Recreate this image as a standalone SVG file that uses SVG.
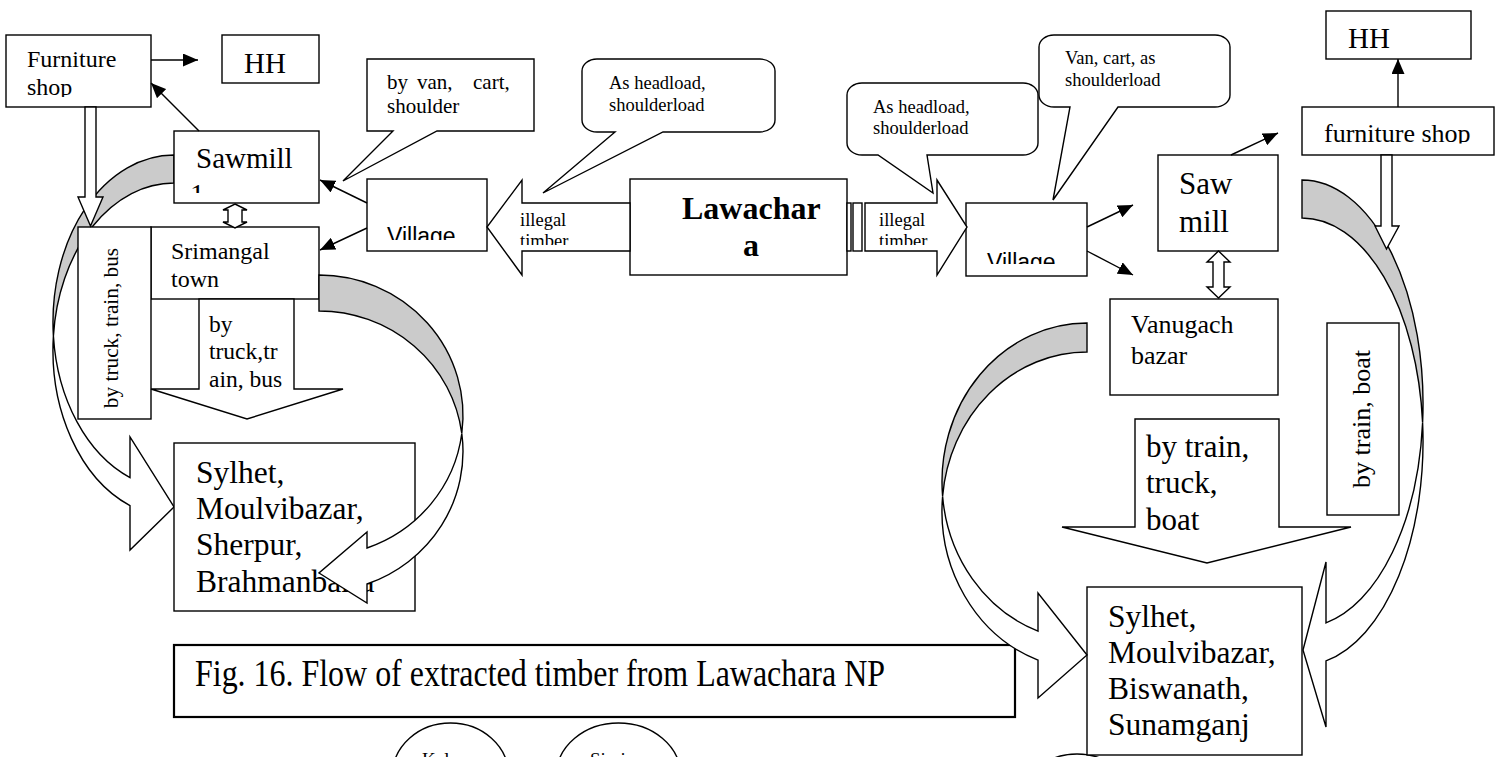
<svg xmlns="http://www.w3.org/2000/svg" width="1503" height="757" viewBox="0 0 1503 757" font-family="'Liberation Serif','Times New Roman',serif">
<style>
.box{fill:#fff;stroke:#000;stroke-width:1.4}
.ln{fill:none;stroke:#000;stroke-width:1.4}
.blk{fill:#fff;stroke:#000;stroke-width:1.4;stroke-linejoin:miter}
.back{fill:#cbcbcb;stroke:#000;stroke-width:1.4;stroke-linejoin:miter}
text{font-family:"Liberation Serif","Times New Roman",serif;fill:#000}
text.sans{font-family:"Liberation Sans",Arial,sans-serif}
.cap{stroke-width:2.2}
</style>
<defs>
<marker id="head" viewBox="0 0 15 13" refX="15" refY="6.5" markerWidth="15" markerHeight="13" markerUnits="userSpaceOnUse" orient="auto"><path d="M0,0 L15,6.5 L0,13 Z" fill="#000"/></marker>
<clipPath id="clip-shop"><rect x="6" y="35" width="145" height="62"/></clipPath>
<clipPath id="clip-saw"><rect x="174" y="131" width="145" height="62"/></clipPath>
<clipPath id="clip-tl"><rect x="480" y="200" width="160" height="45"/></clipPath>
<clipPath id="clip-tr"><rect x="860" y="200" width="80" height="45"/></clipPath>
<clipPath id="clip-vl"><rect x="367" y="179" width="120" height="61"/></clipPath>
<clipPath id="clip-vr"><rect x="966" y="203" width="121" height="61"/></clipPath>
<clipPath id="clip-fs"><rect x="1302" y="107" width="192" height="36.5"/></clipPath>
</defs>
<rect width="1503" height="757" fill="#fff"/>

<!-- curved arrow behind the Srimangal boxes: sawmill round to the district towns -->
<g id="connectors-under">
<path class="back" d="M174,155 A121,167 0 0 0 53.4,336 A121,167 0 0 1 174,183 Z"/>
<path class="blk" d="M53.4,336 A121,167 0 0 0 130,477.6 L130,437 L174,507 L130,550 L130,505.6 A121,167 0 0 1 53.4,336 Z"/>
</g>

<!-- west side: Srimangal -->
<g id="furniture-shop-left">
<rect class="box" x="6" y="35" width="145" height="72"/>
<text x="27" y="67" font-size="24">Furniture</text>
<text x="27" y="95" font-size="24" clip-path="url(#clip-shop)">shop</text>
</g>
<g id="hh-left">
<rect class="box" x="222" y="35" width="97" height="48"/>
<text x="244" y="73" font-size="29">HH</text>
</g>
<g id="sawmill-left">
<rect class="box" x="174" y="131" width="145" height="72"/>
<text x="196" y="168" font-size="29">Sawmill</text>
<text x="190" y="204" font-size="29" clip-path="url(#clip-saw)">1</text>
</g>
<g id="srimangal-town">
<rect class="box" x="151" y="227" width="168" height="72"/>
<text x="171" y="259" font-size="24">Srimangal</text>
<text x="171" y="287" font-size="24">town</text>
</g>
<g id="label-truck-train-bus">
<rect class="box" x="78" y="227" width="73" height="192"/>
<text transform="translate(118,328) rotate(-90)" text-anchor="middle" font-size="21.3">by truck, train, bus</text>
</g>
<g id="sylhet-west">
<rect class="box" x="174" y="443" width="241" height="168"/>
<text font-size="31.5"><tspan x="196" y="483">Sylhet,</tspan><tspan x="196" y="519">Moulvibazar,</tspan><tspan x="196" y="555">Sherpur,</tspan><tspan x="196" y="592">Brahmanbaria</tspan></text>
</g>
<g id="village-west">
<rect class="box" x="367" y="179" width="120" height="72"/>
<text class="sans" x="387" y="243.8" font-size="23" clip-path="url(#clip-vl)">Village</text>
</g>
<g id="callout-van-cart">
<path class="box" d="M367,59 H534 V131 H437 L343,181 L393,131 H367 Z"/>
<text font-size="21" y="89"><tspan x="387">by</tspan><tspan x="417">van,</tspan><tspan x="473">cart,</tspan></text>
<text x="387" y="113" font-size="21">shoulder</text>
</g>
<g id="callout-headload-west">
<path class="box" d="M597,59 H760 A15,12 0 0 1 775,71 V120 A15,12 0 0 1 760,132 H663 L543,193 L615,132 H597 A15,12 0 0 1 582,120 V71 A15,12 0 0 1 597,59 Z"/>
<text x="609" y="89" font-size="18.5">As headload,</text>
<text x="609" y="111" font-size="18.5">shoulderload</text>
</g>

<!-- centre: the national park -->
<g id="lawachara">
<rect class="box" x="630" y="179" width="217" height="96"/>
<text x="682" y="219" font-size="32" font-weight="bold">Lawachar</text>
<text x="743" y="256" font-size="32" font-weight="bold">a</text>
</g>

<!-- east side: Vanugach -->
<g id="callout-headload-east">
<path class="box" d="M862,83 H1023 A15,12 0 0 1 1038,95 V143 A15,12 0 0 1 1023,155 H927 L933,193 L878,155 H862 A15,12 0 0 1 847,143 V95 A15,12 0 0 1 862,83 Z"/>
<text x="873" y="113" font-size="18.5">As headload,</text>
<text x="873" y="134" font-size="18.5">shoulderload</text>
</g>
<g id="callout-van-cart-east">
<path class="box" d="M1054,35 H1215 A15,12 0 0 1 1230,47 V95 A15,12 0 0 1 1215,107 H1118 L1053,200 L1070,107 H1054 A15,12 0 0 1 1039,95 V47 A15,12 0 0 1 1054,35 Z"/>
<text x="1065" y="64" font-size="18.5">Van, cart, as</text>
<text x="1065" y="86" font-size="18.5">shoulderload</text>
</g>
<g id="village-east">
<rect class="box" x="966" y="203" width="121" height="73"/>
<text class="sans" x="987" y="269.5" font-size="23" clip-path="url(#clip-vr)">Village</text>
</g>
<g id="sawmill-east">
<rect class="box" x="1158" y="155" width="120" height="96"/>
<text x="1179" y="194" font-size="31">Saw</text>
<text x="1179" y="232" font-size="31">mill</text>
</g>
<g id="furniture-shop-east">
<rect class="box" x="1302" y="107" width="192" height="48"/>
<text x="1324" y="142" font-size="26" clip-path="url(#clip-fs)">furniture shop</text>
</g>
<g id="hh-east">
<rect class="box" x="1326" y="11" width="145" height="48"/>
<text x="1348" y="48" font-size="29">HH</text>
</g>
<g id="vanugach-bazar">
<rect class="box" x="1110" y="299" width="168" height="96"/>
<text x="1131" y="333" font-size="26">Vanugach</text>
<text x="1131" y="364" font-size="26">bazar</text>
</g>
<g id="label-train-boat">
<rect class="box" x="1327" y="323" width="72" height="192"/>
<text transform="translate(1370,419) rotate(-90)" text-anchor="middle" font-size="26">by train, boat</text>
</g>
<g id="partial-ellipse-east">
<ellipse class="box" cx="1077" cy="806" rx="58" ry="52"/>
</g>
<g id="sylhet-east">
<rect class="box" x="1087" y="587" width="215" height="168"/>
<text font-size="31.5"><tspan x="1108" y="627">Sylhet,</tspan><tspan x="1108" y="663">Moulvibazar,</tspan><tspan x="1108" y="699">Biswanath,</tspan><tspan x="1108" y="735">Sunamganj</tspan></text>
</g>

<!-- figure caption and the circles below it -->
<g id="caption">
<rect class="box cap" x="174" y="645" width="841" height="72"/>
<text x="195" y="686" font-size="38" textLength="690" lengthAdjust="spacingAndGlyphs">Fig. 16. Flow of extracted timber from Lawachara NP</text>
</g>
<g id="circle-kal">
<ellipse class="box" cx="450.5" cy="775" rx="58" ry="52"/>
<text x="422" y="766" font-size="19">Kal</text>
</g>
<g id="circle-sirai">
<ellipse class="box" cx="618.5" cy="775" rx="62" ry="52"/>
<text x="590" y="766" font-size="19">Sirai</text>
</g>

<g id="connectors">
<!-- thin arrows -->
<line class="ln" x1="151" y1="60" x2="198" y2="60" marker-end="url(#head)"/>
<line class="ln" x1="199" y1="131" x2="151" y2="83" marker-end="url(#head)"/>
<line class="ln" x1="367" y1="203" x2="320" y2="180" marker-end="url(#head)"/>
<line class="ln" x1="367" y1="228" x2="320" y2="250" marker-end="url(#head)"/>
<line class="ln" x1="1087" y1="227" x2="1133" y2="205" marker-end="url(#head)"/>
<line class="ln" x1="1087" y1="251" x2="1133" y2="275" marker-end="url(#head)"/>
<line class="ln" x1="1231" y1="155" x2="1278" y2="133" marker-end="url(#head)"/>
<line class="ln" x1="1398" y1="107" x2="1398" y2="59" marker-end="url(#head)"/>

<!-- illegal timber leaving the park -->
<polygon class="blk" points="630,203 522,203 522,180 487,227 522,275 522,251 630,251"/>
<text x="520" y="226" font-size="18.5">illegal</text>
<text x="520" y="247" font-size="18.5" clip-path="url(#clip-tl)">timber</text>
<rect class="blk" x="847" y="203" width="4" height="48"/>
<rect class="blk" x="853" y="203" width="9" height="48"/>
<polygon class="blk" points="865,203 937,203 937,180 967,227 937,275 937,251 865,251"/>
<text x="879" y="226" font-size="18.5">illegal</text>
<text x="879" y="247" font-size="18.5" clip-path="url(#clip-tr)">timber</text>

<!-- Srimangal down to the district towns -->
<polygon class="blk" points="199,299 294,299 294,389 343,389 247,419 151,389 199,389"/>
<text font-size="23.5"><tspan x="209" y="332">by</tspan><tspan x="209" y="359">truck,tr</tspan><tspan x="209" y="387">ain, bus</tspan></text>
<polygon class="blk" points="235,204 247,210 242,210 242,222 247,222 235,228 223,222 228,222 228,210 223,210"/>
<polygon class="blk" points="85,107 96,107 96,197 103,197 90.5,226 78,197 85,197"/>
<path class="back" d="M319,275 A144,140.5 0 0 1 461.8,433.5 A144,140.5 0 0 0 319,311 Z"/>
<path class="blk" d="M461.8,433.5 A144,140.5 0 0 1 367,548 L367,532 L319,573 L367,603 L367,584 A144,140.5 0 0 0 461.8,433.5 Z"/>

<!-- Vanugach down to the district towns -->
<polygon class="blk" points="1135,419 1279,419 1279,527 1351,527 1207,563 1062,527 1135,527"/>
<text font-size="31"><tspan x="1146" y="457">by train,</tspan><tspan x="1146" y="493">truck,</tspan><tspan x="1146" y="530">boat</tspan></text>
<polygon class="blk" points="1218.5,251 1230,262 1224,262 1224,287 1230,287 1218.5,298 1207,287 1213,287 1213,262 1207,262"/>
<path class="back" d="M1087,323 A145,158.7 0 0 0 942.6,496.2 A145,158.7 0 0 1 1087,352 Z"/>
<path class="blk" d="M942.6,496.2 A145,158.7 0 0 0 1038,631.1 L1038,593 L1087,655 L1038,698 L1038,660.1 A145,158.7 0 0 1 942.6,496.2 Z"/>
<path class="back" d="M1302,180 A121,223.7 0 0 1 1422.6,422.7 A121,223.7 0 0 0 1302,218 Z"/>
<path class="blk" d="M1422.6,422.7 A121,223.7 0 0 1 1326,622.9 L1326,562 L1303,650 L1326,727 L1326,660.9 A121,223.7 0 0 0 1422.6,422.7 Z"/>
<polygon class="blk" points="1381,155 1392,155 1392,226 1399,226 1386.5,249 1375,226 1381,226"/>
</g>
</svg>
